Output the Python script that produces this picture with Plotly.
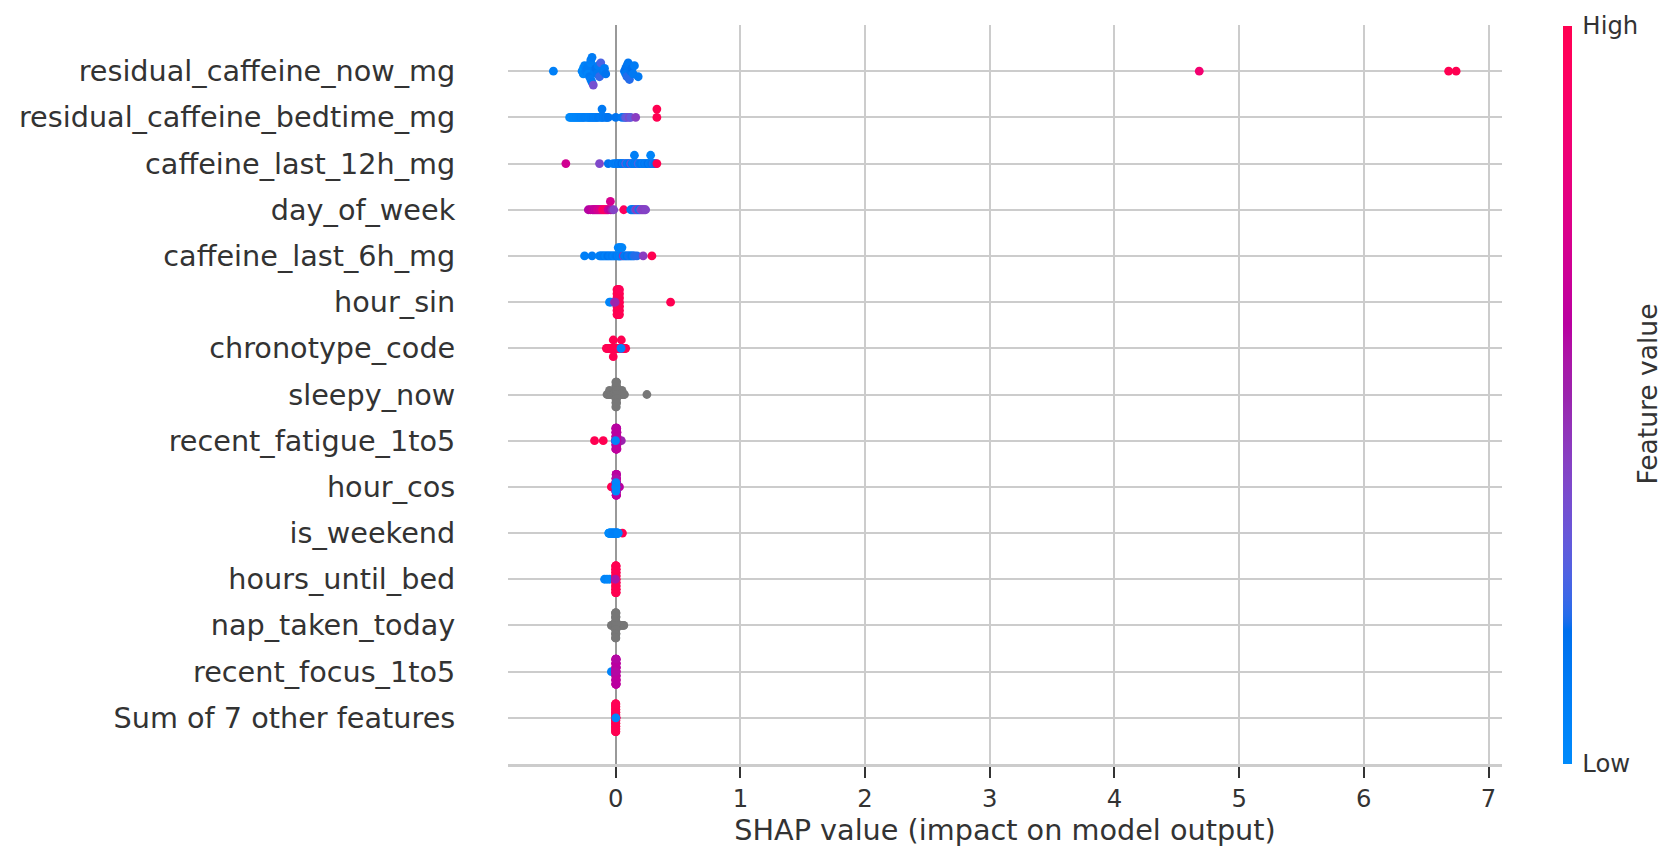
import numpy as np
import plotly.graph_objects as go

# ---------------- data ----------------
features = [
    "residual_caffeine_now_mg", "residual_caffeine_bedtime_mg", "caffeine_last_12h_mg",
    "day_of_week", "caffeine_last_6h_mg", "hour_sin", "chronotype_code", "sleepy_now",
    "recent_fatigue_1to5", "hour_cos", "is_weekend", "hours_until_bed",
    "nap_taken_today", "recent_focus_1to5", "Sum of 7 other features",
]
x_ticks = [0, 1, 2, 3, 4, 5, 6, 7]
cbar_ticks = ["Low", "High"]
x_label = "SHAP value (impact on model output)"
cbar_label = "Feature value"

shap_residual_caffeine_now_mg = [-0.50, -0.27, -0.26, -0.26, -0.25, -0.24, -0.23, -0.22, -0.22, -0.21,
    -0.20, -0.20, -0.20, -0.19, -0.19, -0.18, -0.17, -0.16, -0.15, -0.14, -0.13, -0.12, -0.10, -0.09, -0.08,
    0.07, 0.08, 0.08, 0.09, 0.09, 0.10, 0.11, 0.12, 0.13, 0.14, 0.15, 0.18, 4.68, 6.68, 6.74]
fv_residual_caffeine_now_mg = [0.08, 0.05, 0.00, 0.04, 0.06, 0.08, 0.10, 0.05, 0.10, 0.12, 0.06, 0.10, 0.08,
    0.12, 0.10, 0.35, 0.10, 0.15, 0.12, 0.10, 0.22, 0.25, 0.12, 0.10, 0.15, 0.15, 0.18, 0.12, 0.16, 0.20,
    0.14, 0.20, 0.15, 0.18, 0.12, 0.10, 0.12, 0.86, 1.00, 1.00]

shap_residual_caffeine_bedtime_mg = [-0.37, -0.36, -0.35, -0.34, -0.33, -0.32, -0.31, -0.30, -0.29, -0.28,
    -0.27, -0.26, -0.25, -0.23, -0.22, -0.21, -0.20, -0.19, -0.18, -0.17, -0.16, -0.15, -0.14, -0.12, -0.11,
    -0.11, -0.10, -0.08, -0.07, -0.06, 0.00, 0.05, 0.07, 0.08, 0.09, 0.11, 0.12, 0.16, 0.33, 0.33]
fv_residual_caffeine_bedtime_mg = [0.00, 0.02, 0.00, 0.03, 0.02, 0.04, 0.03, 0.05, 0.04, 0.06, 0.05, 0.06,
    0.08, 0.07, 0.08, 0.06, 0.09, 0.08, 0.10, 0.08, 0.10, 0.09, 0.12, 0.10, 0.10, 0.12, 0.12, 0.14, 0.12,
    0.15, 0.15, 0.12, 0.20, 0.28, 0.30, 0.38, 0.30, 0.42, 1.00, 1.00]

shap_caffeine_last_12h_mg = [-0.40, -0.13, -0.06, -0.02, 0.00, 0.01, 0.02, 0.03, 0.04, 0.05, 0.06, 0.07,
    0.08, 0.09, 0.10, 0.11, 0.12, 0.13, 0.14, 0.15, 0.16, 0.17, 0.18, 0.19, 0.20, 0.21, 0.22, 0.23, 0.24,
    0.25, 0.26, 0.27, 0.28, 0.29, 0.30, 0.31, 0.32, 0.33, 0.15, 0.28]
fv_caffeine_last_12h_mg = [0.68, 0.38, 0.15, 0.10, 0.12, 0.08, 0.15, 0.10, 0.12, 0.18, 0.10, 0.14, 0.30,
    0.12, 0.10, 0.16, 0.35, 0.12, 0.08, 0.14, 0.10, 0.12, 0.25, 0.10, 0.14, 0.12, 0.08, 0.15, 0.10, 0.12,
    0.18, 0.10, 0.12, 0.15, 0.20, 0.12, 0.18, 1.00, 0.08, 0.05]

shap_day_of_week = [-0.220, -0.204, -0.188, -0.180, -0.172, -0.164, -0.156, -0.148, -0.140, -0.132, -0.124,
    -0.116, -0.108, -0.100, -0.092, -0.084, -0.076, -0.068, -0.060, -0.043, -0.030, -0.016, 0.064, 0.120,
    0.128, 0.136, 0.144, 0.152, 0.160, 0.168, 0.176, 0.184, 0.192, 0.200, 0.208, 0.216, 0.224, 0.232, 0.240,
    -0.043]
fv_day_of_week = [0.58, 0.60, 0.62, 0.65, 0.60, 0.66, 0.62, 0.68, 0.70, 0.66, 0.72, 0.70, 0.85, 0.92, 0.95,
    0.90, 0.92, 0.88, 0.65, 0.60, 0.50, 0.40, 0.95, 0.10, 0.12, 0.08, 0.15, 0.20, 0.30, 0.45, 0.40, 0.20,
    0.12, 0.35, 0.40, 0.42, 0.40, 0.42, 0.40, 0.70]

shap_caffeine_last_6h_mg = [-0.25, -0.19, -0.13, -0.12, -0.11, -0.10, -0.09, -0.08, -0.07, -0.06, -0.05,
    -0.04, -0.03, -0.02, -0.01, 0.00, 0.01, 0.02, 0.025, 0.03, 0.035, 0.04, 0.05, 0.06, 0.07, 0.08, 0.09,
    0.10, 0.11, 0.12, 0.13, 0.14, 0.15, 0.17, 0.22, 0.29, 0.02, 0.03, 0.04, 0.05]
fv_caffeine_last_6h_mg = [0.08, 0.10, 0.05, 0.10, 0.08, 0.10, 0.12, 0.05, 0.10, 0.15, 0.10, 0.08, 0.12,
    0.10, 0.05, 0.10, 0.12, 0.05, 0.10, 0.08, 0.10, 0.05, 0.10, 0.45, 0.12, 0.10, 0.15, 0.10, 0.20, 0.10,
    0.15, 0.10, 0.20, 0.20, 0.42, 1.00, 0.05, 0.03, 0.06, 0.04]

shap_hour_sin = [0.44,
    0.010, 0.010, 0.010, 0.010, 0.010, 0.010, 0.010,
    0.015, 0.015, 0.015, 0.015, 0.015, 0.015, 0.015,
    0.020, 0.020, 0.020, 0.020, 0.020, 0.020, 0.020,
    0.025, 0.025, 0.025, 0.025, 0.025, 0.025, 0.025,
    0.030, 0.030, 0.030, 0.030, 0.030, 0.030, 0.030,
    -0.05, -0.04, -0.01, -0.005]
fv_hour_sin = [1.00,
    1.00, 0.98, 1.00, 1.00, 0.97, 1.00, 1.00,
    1.00, 1.00, 0.98, 1.00, 1.00, 1.00, 0.97,
    1.00, 0.97, 1.00, 1.00, 1.00, 0.98, 1.00,
    1.00, 1.00, 1.00, 0.97, 1.00, 1.00, 1.00,
    0.98, 1.00, 1.00, 1.00, 1.00, 0.97, 1.00,
    0.02, 0.05, 0.45, 0.50]

shap_chronotype_code = [-0.075, -0.070, -0.065, -0.060, -0.055, -0.050, -0.045, -0.040, -0.035, -0.030,
    -0.025, -0.020, -0.015, -0.010, -0.005, 0.000, 0.005, 0.010, 0.015, 0.020, 0.025, 0.030, 0.035, 0.040,
    0.045, 0.050, 0.055, 0.060, 0.065, 0.070, 0.075, 0.080, -0.020, -0.020, 0.045, 0.0025, 0.0125, 0.0225,
    -0.0025, 0.0425]
fv_chronotype_code = [1.00, 1.00, 0.98, 1.00, 1.00, 1.00, 0.97, 1.00, 1.00, 1.00, 0.98, 1.00, 1.00, 1.00,
    1.00, 0.97, 1.00, 1.00, 1.00, 0.98, 1.00, 1.00, 1.00, 1.00, 1.00, 0.97, 1.00, 1.00, 1.00, 0.98, 1.00,
    1.00, 1.00, 1.00, 1.00, 1.00, 0.98, 1.00, 1.00, 0.05]

shap_sleepy_now = [0.25, -0.07, -0.06, -0.05, -0.05, -0.04, -0.03, -0.02, -0.015, -0.01, 0.01, 0.015, 0.02,
    0.03, 0.04, 0.05, 0.05, 0.06, 0.065, 0.07,
    0.001, 0.001, 0.001, 0.001, 0.001, 0.001, 0.001,
    0.004, 0.004, 0.004, 0.004, 0.004, 0.004, 0.004,
    0.007, 0.007, 0.007, 0.007, 0.007, 0.007]
fv_sleepy_now = None   # no feature values -> drawn grey

shap_recent_fatigue_1to5 = [-0.17, -0.10, 0.045, -0.004,
    0.000, 0.000, 0.000, 0.000, 0.000, 0.000,
    0.002, 0.002, 0.002, 0.002, 0.002, 0.002,
    0.004, 0.004, 0.004, 0.004, 0.004, 0.004,
    0.006, 0.006, 0.006, 0.006, 0.006, 0.006,
    0.008, 0.008, 0.008, 0.008, 0.008, 0.008,
    0.010, 0.010, 0.010, 0.010, 0.010,
    -0.0015]
fv_recent_fatigue_1to5 = [1.00, 1.00, 0.50, 0.60,
    0.60, 0.62, 0.58, 0.60, 0.63, 0.60,
    0.61, 0.60, 0.58, 0.62, 0.60, 0.59,
    0.60, 0.62, 0.60, 0.58, 0.61, 0.60,
    0.59, 0.60, 0.62, 0.60, 0.58, 0.61,
    0.60, 0.58, 0.60, 0.62, 0.60, 0.59,
    0.60, 0.61, 0.58, 0.60, 0.62,
    0.05]

shap_hour_cos = [-0.035, 0.030, 0.000, 0.000, 0.000,
    0.003, 0.003, 0.003, 0.003, 0.003, 0.003,
    0.004, 0.004, 0.004, 0.004, 0.004, 0.004,
    0.005, 0.005, 0.005, 0.005, 0.005, 0.005,
    0.006, 0.006, 0.006, 0.006, 0.006, 0.006,
    0.007, 0.007, 0.007,
    0.001, 0.001, 0.001, 0.001,
    0.0015, 0.002, 0.002, 0.002]
fv_hour_cos = [1.00, 0.60, 0.95, 0.97, 0.95,
    0.60, 0.62, 0.58, 0.60, 0.61, 0.60,
    0.59, 0.60, 0.62, 0.60, 0.58, 0.61,
    0.60, 0.58, 0.60, 0.62, 0.60, 0.59,
    0.60, 0.61, 0.58, 0.60, 0.62, 0.60,
    0.59, 0.60, 0.62,
    0.55, 0.58, 0.60, 0.56,
    0.00, 0.02, 0.03, 0.02]

shap_is_weekend = [0.054, -0.056, -0.054, -0.052, -0.050, -0.048, -0.046, -0.044, -0.042, -0.040, -0.038,
    -0.036, -0.034, -0.032, -0.030, -0.028, -0.026, -0.024, -0.022, -0.020, -0.018, -0.016, -0.014, -0.012,
    -0.010, -0.008, -0.006, -0.004, -0.002, 0.000, 0.002, 0.004, 0.006, 0.008, 0.010, 0.012, 0.014, 0.016,
    0.018, 0.020]
fv_is_weekend = [1.00, 0.00, 0.00, 0.01, 0.00, 0.00, 0.01, 0.00, 0.00, 0.01, 0.00, 0.00, 0.01, 0.00, 0.00,
    0.01, 0.02, 0.03, 0.04, 0.05, 0.04, 0.05, 0.06, 0.05, 0.06, 0.07, 0.06, 0.05, 0.06, 0.07, 0.06, 0.05,
    0.06, 0.07, 0.06, 0.05, 0.06, 0.07, 0.06, 0.05]

shap_hours_until_bed = [-0.09, -0.07, -0.05,
    0.000, 0.000, 0.000, 0.000, 0.000, 0.000, 0.000, 0.000, 0.000,
    0.001, 0.001, 0.001, 0.001, 0.001, 0.001, 0.001, 0.001, 0.001,
    0.002, 0.002, 0.002, 0.002, 0.002, 0.002, 0.002, 0.002, 0.002,
    0.003, 0.003, 0.003, 0.003, 0.003, 0.003, 0.003, 0.003, 0.003,
    -0.003]
fv_hours_until_bed = [0.05, 0.05, 0.02,
    1.00, 1.00, 0.98, 1.00, 1.00, 1.00, 0.97, 1.00, 1.00,
    1.00, 0.98, 1.00, 1.00, 1.00, 0.97, 1.00, 1.00, 1.00,
    1.00, 1.00, 1.00, 0.98, 1.00, 1.00, 1.00, 0.97, 1.00,
    1.00, 1.00, 0.97, 1.00, 1.00, 0.98, 1.00, 1.00, 1.00,
    0.55]

shap_nap_taken_today = [-0.035, -0.03, -0.025, -0.02, -0.015, -0.01, 0.01, 0.02, 0.03, 0.04, 0.05, 0.06,
    0.065,
    0.000, 0.000, 0.000, 0.000, 0.000, 0.000, 0.000,
    0.001, 0.001, 0.001, 0.001, 0.001, 0.001, 0.001,
    0.002, 0.002, 0.002, 0.002, 0.002, 0.002,
    -0.001, -0.001, -0.001, -0.001, -0.001, -0.001, -0.001]
fv_nap_taken_today = None   # no feature values -> drawn grey

shap_recent_focus_1to5 = [-0.035, -0.004,
    0.000, 0.000, 0.000, 0.000, 0.000, 0.000, 0.000,
    0.001, 0.001, 0.001, 0.001, 0.001, 0.001, 0.001,
    0.002, 0.002, 0.002, 0.002, 0.002, 0.002, 0.002,
    0.003, 0.003, 0.003, 0.003, 0.003, 0.003, 0.003,
    0.004, 0.004, 0.004, 0.004, 0.004, 0.004, 0.004,
    -0.003, -0.002, -0.001]
fv_recent_focus_1to5 = [0.05, 0.08,
    0.60, 0.62, 0.58, 0.60, 0.63, 0.60, 0.61,
    0.60, 0.58, 0.62, 0.60, 0.59, 0.60, 0.62,
    0.60, 0.61, 0.58, 0.60, 0.62, 0.60, 0.59,
    0.61, 0.60, 0.62, 0.58, 0.60, 0.60, 0.63,
    0.60, 0.59, 0.61, 0.60, 0.62, 0.58, 0.60,
    0.60, 0.62, 0.58]

shap_sum_other = [-0.003, -0.002, 0.002, 0.003, -0.0015, 0.0015,
    0.000, 0.000, 0.000, 0.000, 0.000, 0.000, 0.000, 0.000, 0.000, 0.000, 0.000,
    -0.001, -0.001, -0.001, -0.001, -0.001, -0.001, -0.001, -0.001, -0.001, -0.001, -0.001,
    0.001, 0.001, 0.001, 0.001, 0.001, 0.001, 0.001, 0.001, 0.001, 0.001, 0.001,
    0.0005]
fv_sum_other = [1.00, 1.00, 0.98, 1.00, 1.00, 0.97,
    1.00, 1.00, 0.98, 1.00, 1.00, 1.00, 0.97, 1.00, 1.00, 1.00, 0.98,
    1.00, 1.00, 1.00, 0.97, 1.00, 1.00, 0.98, 1.00, 1.00, 1.00, 1.00,
    0.98, 1.00, 1.00, 1.00, 1.00, 0.97, 1.00, 1.00, 1.00, 0.98, 1.00,
    0.02]

shap_rows = [shap_residual_caffeine_now_mg, shap_residual_caffeine_bedtime_mg, shap_caffeine_last_12h_mg,
             shap_day_of_week, shap_caffeine_last_6h_mg, shap_hour_sin, shap_chronotype_code, shap_sleepy_now,
             shap_recent_fatigue_1to5, shap_hour_cos, shap_is_weekend, shap_hours_until_bed,
             shap_nap_taken_today, shap_recent_focus_1to5, shap_sum_other]
fv_rows = [fv_residual_caffeine_now_mg, fv_residual_caffeine_bedtime_mg, fv_caffeine_last_12h_mg,
           fv_day_of_week, fv_caffeine_last_6h_mg, fv_hour_sin, fv_chronotype_code, fv_sleepy_now,
           fv_recent_fatigue_1to5, fv_hour_cos, fv_is_weekend, fv_hours_until_bed,
           fv_nap_taken_today, fv_recent_focus_1to5, fv_sum_other]


# ---------------- shap "red_blue" colour map (LCH interpolation) ----------------
def lch_to_rgb(L, C, h):
    a, b = C * np.cos(h), C * np.sin(h)
    fy = (L + 16.0) / 116.0
    f = np.array([fy + a / 500.0, fy, max(fy - b / 200.0, 0.0)])
    f = np.where(f > 0.2068966, f ** 3, (f - 16.0 / 116.0) / 7.787)
    xyz = f * np.array([0.95047, 1.0, 1.08883])
    m = np.array([[3.24048134, -1.53715152, -0.49853633],
                  [-0.96925495, 1.87599, 0.04155593],
                  [0.05564664, -0.20404134, 1.05731107]])
    rgb = m @ xyz
    rgb = np.where(rgb > 0.0031308, 1.055 * np.power(np.clip(rgb, 0, None), 1 / 2.4) - 0.055, 12.92 * rgb)
    return np.clip(rgb, 0, 1)

nsteps = 100
l_vals = list(np.linspace(54.0, 40.0, nsteps // 2)) + list(np.linspace(40.0, 54.0, nsteps // 2))
c_vals = np.linspace(70.0, 90.0, nsteps)
h_vals = np.linspace(4.6588, 0.35470565 + 2 * np.pi, nsteps)
colorscale = []
for p, l, c, h in zip(np.linspace(0, 1, nsteps), l_vals, c_vals, h_vals):
    r, g, b = lch_to_rgb(l, c, h)
    colorscale.append([float(p), "rgb(%d,%d,%d)" % (round(r * 255), round(g * 255), round(b * 255))])


# ---------------- beeswarm layout (same binning rule as shap) ----------------
def swarm(vals, row_height=0.4, nbins=100):
    v = np.asarray(vals, dtype=float)
    quant = np.round(nbins * (v - v.min()) / (v.max() - v.min() + 1e-8))
    order = np.argsort(quant, kind="stable")
    ys = np.zeros(len(v))
    layer, last = 0, None
    for i in order:
        if quant[i] != last:
            layer = 0
        ys[i] = np.ceil(layer / 2) * ((layer % 2) * 2 - 1)
        layer += 1
        last = quant[i]
    ys *= 0.9 * (row_height / np.max(ys + 1))
    return ys


n = len(features)
cx, cy, cc = [], [], []
gx, gy = [], []
for i in range(n):
    pos = n - 1 - i
    ys = swarm(shap_rows[i])
    if fv_rows[i] is None:
        gx += list(shap_rows[i]); gy += list(pos + ys)
    else:
        cx += list(shap_rows[i]); cy += list(pos + ys); cc += list(fv_rows[i])

fig = go.Figure()
fig.add_trace(go.Scatter(x=gx, y=gy, mode="markers", hoverinfo="skip",
                         marker=dict(color="#777777", size=8.8, line=dict(width=0))))
fig.add_trace(go.Scatter(
    x=cx, y=cy, mode="markers", hoverinfo="skip",
    marker=dict(color=cc, colorscale=colorscale, cmin=0, cmax=1, size=8.8, line=dict(width=0),
                showscale=True,
                colorbar=dict(thickness=9, len=738, lenmode="pixels", x=1.0614, xanchor="left",
                              xpad=0, ypad=0, y=0.5, yanchor="middle", outlinewidth=0,
                              tickvals=[0, 1], ticktext=cbar_ticks, ticks="outside", ticklen=6,
                              tickcolor="rgba(0,0,0,0)",
                              tickfont=dict(size=24.3, color="#333333")))))

TXT = "#333333"
# the page body adds an 8 px offset, so the figure is 8 px smaller and margins shifted
fig.update_layout(
    width=1670, height=854,
    margin=dict(l=500, r=176, t=16.5, b=98),
    plot_bgcolor="white", paper_bgcolor="white", showlegend=False,
    font=dict(family="DejaVu Sans", color=TXT),
    annotations=[dict(text=cbar_label, xref="paper", yref="paper", x=(1647 - 508) / 994, y=0.5,
                      xanchor="center", yanchor="middle", textangle=-90, showarrow=False,
                      font=dict(size=26.5, color=TXT))],
)
fig.update_xaxes(
    range=[-0.864, 7.108], tickvals=x_ticks, ticktext=[str(t) for t in x_ticks],
    showgrid=True, gridcolor="#cccccc", gridwidth=1.8,
    zeroline=True, zerolinecolor="#999999", zerolinewidth=2.2,
    showline=True, linecolor="#cccccc", linewidth=2.5,
    ticks="outside", ticklen=11, tickwidth=2, tickcolor=TXT,
    tickfont=dict(size=24.3, color=TXT),
    title=dict(text=x_label, font=dict(size=28.7, color=TXT), standoff=8),
)
fig.update_yaxes(
    range=[-1, 15], tickvals=list(range(n)), ticktext=features[::-1],
    showgrid=True, gridcolor="#cccccc", gridwidth=1.8, zeroline=False, showline=False,
    ticks="outside", ticklen=46, tickcolor="rgba(0,0,0,0)",
    tickfont=dict(size=28.7, color=TXT),
)
fig.write_html("out.html")
